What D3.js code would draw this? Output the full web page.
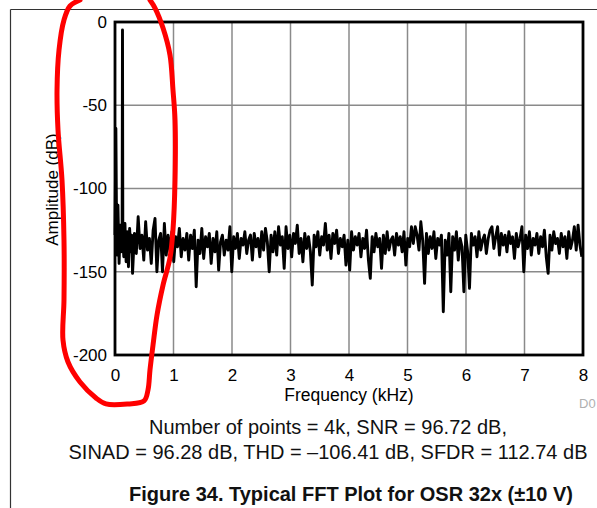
<!DOCTYPE html>
<html>
<head>
<meta charset="utf-8">
<script src="https://cdn.jsdelivr.net/npm/d3@7"></script>
<style>
  html, body { margin: 0; padding: 0; background: #fff; overflow: hidden; }
  svg { display: block; }
  text { font-family: "Liberation Sans", Arial, sans-serif; }
</style>
</head>
<body>
<svg id="chart" width="597" height="508"></svg>
<script>
// ---------------- data ----------------
const xTicks = [0, 1, 2, 3, 4, 5, 6, 7, 8];
const yTicks = [0, -50, -100, -150, -200];

// low-frequency region (DC + fundamental), explicit frequencies (kHz) and amplitudes (dB)
const lowFreqKHz = [0.000, 0.015, 0.030, 0.050, 0.070, 0.090, 0.105, 0.122, 0.128, 0.134, 0.150, 0.170, 0.190, 0.210, 0.230, 0.250, 0.270, 0.285];
const lowDb      = [-128,  -64,   -140,  -110,  -145,  -122,  -138,  -126,  -4.8,  -130,  -141,  -121,  -144,  -126,  -147,  -124,  -138,  -128];

// noise floor bins starting at noiseStartKHz, one value per bin of noiseBinKHz
const noiseStartKHz = 0.30;
const noiseBinKHz = 0.032;
const noiseDb = [
  -151, -127, -139, -117, -136, -128, -143, -120, -137, -130,
  -145, -125, -118, -150, -131, -127, -150, -121, -140, -128,
  -138, -126, -144, -129, -135, -124, -141, -130, -137, -127,
  -143, -128, -136, -125, -159, -131, -139, -124, -142, -129,
  -135, -127, -145, -130, -138, -126, -149, -132, -128, -140,
  -131, -137, -123, -150, -129, -136, -127, -142, -130, -134,
  -126, -139, -131, -128, -143, -127, -135, -130, -141, -126,
  -137, -124, -132, -150, -128, -138, -126, -140, -123, -134,
  -129, -148, -123, -136, -128, -141, -127, -133, -122, -139,
  -130, -144, -127, -136, -129, -138, -158, -128, -135, -126,
  -140, -129, -134, -121, -137, -128, -142, -127, -133, -125,
  -139, -130, -135, -128, -146, -131, -149, -126, -137, -129,
  -134, -127, -141, -130, -136, -125, -143, -154, -129, -138,
  -127, -135, -130, -148, -128, -139, -126, -137, -131, -129,
  -140, -127, -134, -129, -138, -126, -146, -130, -135, -123,
  -133, -123, -128, -137, -120, -131, -157, -127, -139, -129,
  -136, -126, -142, -130, -134, -128, -174, -131, -140, -127,
  -162, -129, -137, -126, -143, -130, -135, -162, -128, -138,
  -160, -127, -134, -129, -141, -126, -137, -131, -128, -139,
  -130, -125, -123, -136, -129, -123, -140, -127, -134, -128,
  -138, -126, -133, -129, -142, -127, -135, -130, -123, -150,
  -128, -136, -126, -140, -130, -134, -127, -139, -129, -135,
  -125, -141, -151, -128, -137, -126, -133, -130, -139, -127,
  -135, -129, -142, -126, -136, -131, -123, -137, -122, -134, -141
];

// hand-drawn red annotation loop, in data units (kHz, dB)
const markKHz = [-0.598, -0.769, -0.872, -0.957, -0.991, -0.974, -0.906, -0.872, -0.872, -0.889, -0.803, -0.598, -0.325, -0.154, 0.222, 0.496, 0.564, 0.598, 0.650, 0.718, 0.821, 0.940, 0.991, 1.026, 1.026, 0.991, 0.940, 0.821, 0.684, 0.598];
const markDb  = [13.2, 9.6, 1.2, -16.8, -40.8, -64.9, -94.9, -130.9, -167.0, -191.0, -204.2, -216.2, -225.8, -229.4, -229.4, -227.6, -221.0, -209.0, -194.0, -176.0, -158.0, -141.7, -124.9, -94.9, -58.9, -40.8, -19.8, -3.6, 8.4, 13.2];

const captionLines = [
  "Number of points = 4k, SNR = 96.72 dB,",
  "SINAD = 96.28 dB, THD = \u2013106.41 dB, SFDR = 112.74 dB"
];
const figureTitle = "Figure 34. Typical FFT Plot for OSR 32x (\u00b110 V)";

// ---------------- chart ----------------
const svg = d3.select("#chart");
const plot = { left: 115, right: 583, top: 22, bottom: 355 };

const x = d3.scaleLinear().domain([0, 8]).range([plot.left, plot.right]);
const y = d3.scaleLinear().domain([-200, 0]).range([plot.bottom, plot.top]);

// outer page frame
svg.append("line").attr("x1", 10.5).attr("x2", 597).attr("y1", 9.5).attr("y2", 9.5)
  .attr("stroke", "#333").attr("stroke-width", 1.2);
svg.append("line").attr("x1", 10.5).attr("x2", 10.5).attr("y1", 9.5).attr("y2", 508)
  .attr("stroke", "#333").attr("stroke-width", 1.2);

// gridlines
svg.append("g").selectAll("line").data(xTicks.filter(d => d > 0 && d < 8)).join("line")
  .attr("x1", d => x(d)).attr("x2", d => x(d))
  .attr("y1", plot.top).attr("y2", plot.bottom)
  .attr("stroke", "#8a8a8a").attr("stroke-width", 1.5);
svg.append("g").selectAll("line").data(yTicks.filter(d => d < 0 && d > -200)).join("line")
  .attr("x1", plot.left).attr("x2", plot.right)
  .attr("y1", d => y(d)).attr("y2", d => y(d))
  .attr("stroke", "#8a8a8a").attr("stroke-width", 1.5);

// spectrum
const spectrum = lowFreqKHz.map((f, i) => [f, lowDb[i]])
  .concat(noiseDb.map((v, i) => [noiseStartKHz + i * noiseBinKHz, v]));
const line = d3.line().x(d => x(d[0])).y(d => y(d[1]));
svg.append("path").datum(spectrum)
  .attr("d", line)
  .attr("fill", "none").attr("stroke", "#000").attr("stroke-width", 2.9)
  .attr("stroke-linejoin", "round");

// plot frame
svg.append("rect")
  .attr("x", plot.left).attr("y", plot.top)
  .attr("width", plot.right - plot.left).attr("height", plot.bottom - plot.top)
  .attr("fill", "none").attr("stroke", "#000").attr("stroke-width", 2.8);

// axes
const yAxis = d3.axisLeft(y).tickValues(yTicks).tickSize(0).tickPadding(8).tickFormat(d => String(d));
const gy = svg.append("g").attr("transform", `translate(${plot.left},0)`).call(yAxis);
gy.select(".domain").remove();
gy.selectAll("text").attr("font-size", 17).attr("fill", "#000")
  .attr("font-family", "'Liberation Sans', Arial, sans-serif");

const xAxis = d3.axisBottom(x).tickValues(xTicks).tickSize(0).tickPadding(14).tickFormat(d => String(d));
const gx = svg.append("g").attr("transform", `translate(0,${plot.bottom})`).call(xAxis);
gx.select(".domain").remove();
gx.selectAll("text").attr("font-size", 17).attr("fill", "#000")
  .attr("font-family", "'Liberation Sans', Arial, sans-serif");

// axis titles
svg.append("text").attr("x", x(4)).attr("y", 401)
  .attr("text-anchor", "middle").attr("font-size", 17.5).text("Frequency (kHz)");
svg.append("text")
  .attr("transform", `translate(58,${(plot.top + plot.bottom) / 2 + 1}) rotate(-90)`)
  .attr("text-anchor", "middle").attr("font-size", 17).text("Amplitude (dB)");

// figure id (cut by the right edge, as in the source image)
svg.append("text").attr("x", 579).attr("y", 408).attr("font-size", 13)
  .attr("fill", "#b0b0b0").text("D0");

// captions
svg.selectAll("text.cap").data(captionLines).join("text").attr("class", "cap")
  .attr("x", 328).attr("y", (d, i) => 434 + i * 25)
  .attr("text-anchor", "middle").attr("font-size", 20).attr("fill", "#111").text(d => d);
svg.append("text").attr("x", 351).attr("y", 501).attr("text-anchor", "middle")
  .attr("font-size", 20).attr("font-weight", "bold").attr("fill", "#111").text(figureTitle);

// red annotation
const markLine = d3.line().x(d => x(d[0])).y(d => y(d[1])).curve(d3.curveCatmullRom);
svg.append("path").datum(markKHz.map((f, i) => [f, markDb[i]]))
  .attr("d", markLine).attr("fill", "none").attr("stroke", "#ff0000")
  .attr("stroke-width", 5).attr("stroke-linecap", "round").attr("stroke-linejoin", "round");
</script>
</body>
</html>
